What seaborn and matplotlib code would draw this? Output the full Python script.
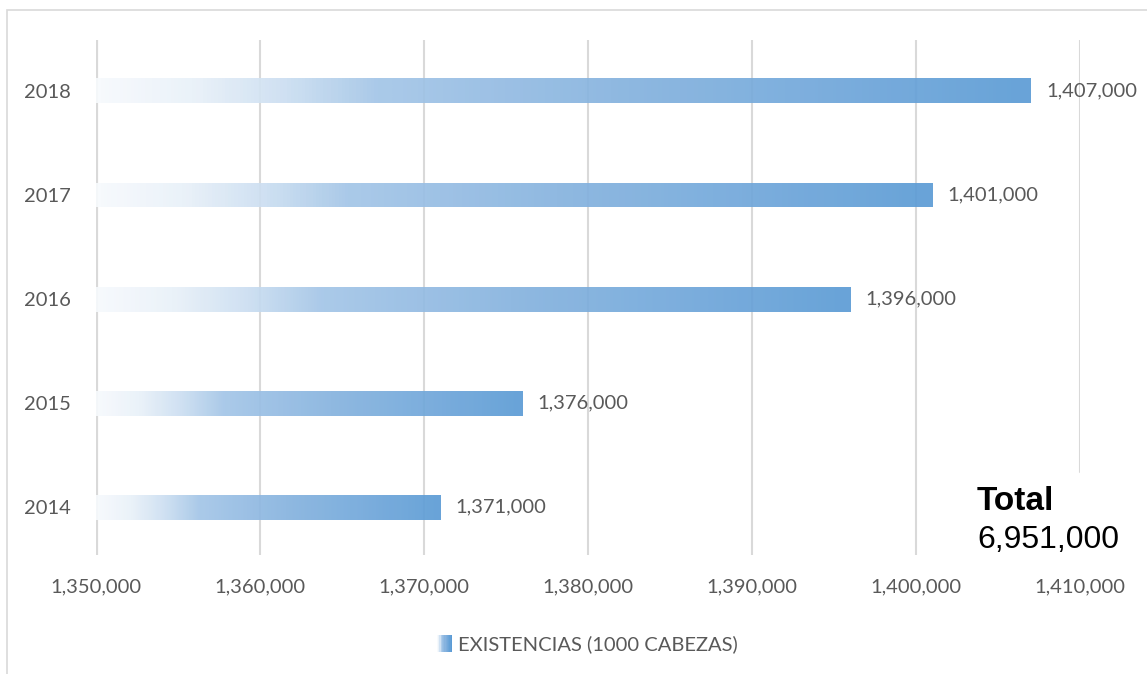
import numpy as np
import matplotlib
matplotlib.use("Agg")
import matplotlib.pyplot as plt
import seaborn as sns
import pandas as pd
from matplotlib.colors import LinearSegmentedColormap
from matplotlib.patches import Rectangle
from matplotlib.legend_handler import HandlerBase
from matplotlib.ticker import FuncFormatter

years = ["2014", "2015", "2016", "2017", "2018"]
values = [1371000, 1376000, 1396000, 1401000, 1407000]
x_ticks = [1350000, 1360000, 1370000, 1380000, 1390000, 1400000, 1410000]
legend_label = "EXISTENCIAS (1000 CABEZAS)"
total_label = "Total"
total_value = "6,951,000"

sns.set_theme(style="white")
plt.rcParams["font.family"] = ["Lato", "DejaVu Sans"]

grad = LinearSegmentedColormap.from_list(
    "grad",
    [(0.0, "#f7fafd"), (0.1, "#e9f1f9"), (0.2, "#cbdef1"), (0.3, "#a3c5e7"),
     (0.55, "#86b3df"), (1.0, "#5b9bd5")])

df = pd.DataFrame({"year": years, "value": values})

fig = plt.figure(figsize=(11.47, 6.74), dpi=100)
ax = fig.add_axes([0.0837, 0.1766, 0.8579, 0.7641])

sns.barplot(data=df, x="value", y="year", order=years[::-1], orient="h",
            width=0.24, ax=ax, color="#5b9bd5")

xmin, xmax = x_ticks[0], x_ticks[-1]
ax.set_xlim(xmin, xmax)
ylim = (len(years) - 1 + 0.46, -0.49)

gimg = np.linspace(0, 1, 256).reshape(1, -1)
for p in ax.patches:
    x0 = max(p.get_x(), xmin)
    x1 = p.get_x() + p.get_width()
    y0 = p.get_y()
    y1 = y0 + p.get_height()
    p.set_facecolor("none")
    p.set_edgecolor("none")
    im = ax.imshow(gimg, cmap=grad, aspect="auto", extent=(x0, x1, y1, y0),
                   interpolation="bilinear", zorder=2, alpha=0.92)
    im.set_clip_path(p)
    ax.annotate(f"{int(x1):,}", xy=(x1, (y0 + y1) / 2), xytext=(11, 0),
                textcoords="offset points", va="center", ha="left",
                fontsize=14.5, color="#595959")

ax.set_xlim(xmin, xmax)
ax.set_ylim(ylim)

# gridlines
for t in x_ticks:
    if t == xmin:
        ax.axvline(t, color="#d9d9d9", lw=3, zorder=1)
    elif t == xmax:
        ax.axvline(t, ymin=0.161, ymax=1, color="#d9d9d9", lw=1.5, zorder=1)
    else:
        ax.axvline(t, color="#d9d9d9", lw=1.5, zorder=1)

ax.set_xticks(x_ticks)
ax.xaxis.set_major_formatter(FuncFormatter(lambda v, _: f"{int(v):,}"))
ax.tick_params(axis="x", length=0, pad=17, labelsize=14.5, labelcolor="#595959")
ax.tick_params(axis="y", length=0, pad=18, labelsize=14.5, labelcolor="#595959")
ax.set_xlabel("")
ax.set_ylabel("")
for s in ax.spines.values():
    s.set_visible(False)

# total box
fig.text(977 / 1147, 1 - 502 / 674, total_label, family=["Liberation Sans"],
         fontweight="bold", fontsize=24, color="black", ha="left", va="center")
fig.text(977 / 1147, 1 - 540 / 674, total_value, family=["Liberation Sans"],
         fontsize=23, color="black", ha="left", va="center")


class GradHandler(HandlerBase):
    def create_artists(self, legend, orig_handle, xdescent, ydescent, width,
                       height, fontsize, trans):
        n = 12
        arts = []
        for i in range(n):
            r = Rectangle((-xdescent + width * i / n, -ydescent), width / n + 0.05,
                          height, facecolor=grad(i / (n - 1)), edgecolor="none",
                          transform=trans)
            arts.append(r)
        return arts


handle = Rectangle((0, 0), 1, 1)
leg = fig.legend([handle], [legend_label], handler_map={Rectangle: GradHandler()},
                 loc="center", bbox_to_anchor=(0.512, 1 - 644 / 674), frameon=False,
                 fontsize=14.5, handlelength=0.75, handleheight=0.9, handletextpad=0.3,
                 labelcolor="#595959")

fig.add_artist(Rectangle((7 / 1147, -0.1), 2, 1 - 10 / 674 + 0.1,
                         transform=fig.transFigure, fill=False,
                         edgecolor="#d9d9d9", lw=1.2))

fig.savefig("out.png", dpi=100)
